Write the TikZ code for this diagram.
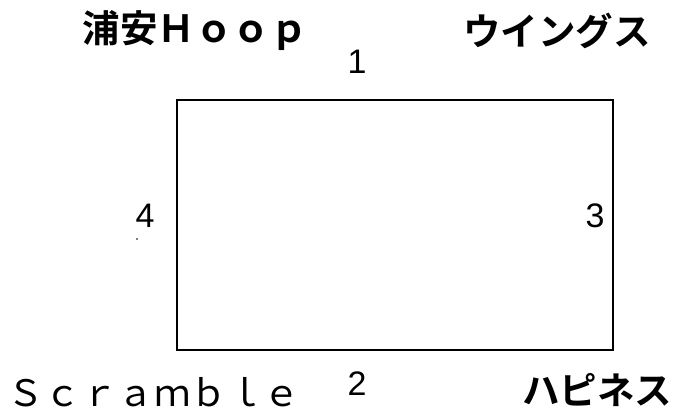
\documentclass[tikz,border=0pt]{standalone}
\usepackage{fontspec}
\setmainfont{Liberation Sans}
\newfontfamily\jp{Noto Sans CJK JP}[BoldFont={Noto Sans CJK JP Bold}]
\usetikzlibrary{positioning}

\begin{document}
\begin{tikzpicture}[x=1pt, y=-1pt,
        court/.style={draw, rectangle, line width=1.6pt, minimum width=436pt, minimum height=250pt, inner sep=0pt},
        team/.style={inner sep=0pt, font=\jp\bfseries\fontsize{37.5}{40}\selectfont},
        teamlight/.style={inner sep=0pt, font=\jp\fontsize{36.5}{40}\selectfont},
        num/.style={inner sep=0pt, font=\fontsize{34}{36}\selectfont}
    ]
        \useasboundingbox (0,0) rectangle (679,414);

        \node[court] (court) at (395,225) {};

        \node[team] (urayasu) at (195,31) {浦安Ｈｏｏｐ};
        \node[team] (wings) at (557,31) {ウイングス};
        \node[teamlight] (scramble) at (154,392) {Ｓｃｒａｍｂｌｅ};
        \node[team] (happiness) at (597,390) {ハピネス};

        \node[num] (n1) at (357,62) {1};
        \node[num] (n2) at (357,384) {2};
        \node[num] (n3) at (595,216) {3};
        \node[num] (n4) at (145,216) {4};

        \fill (137,239) circle (0.8pt);
    \end{tikzpicture}
\end{document}
